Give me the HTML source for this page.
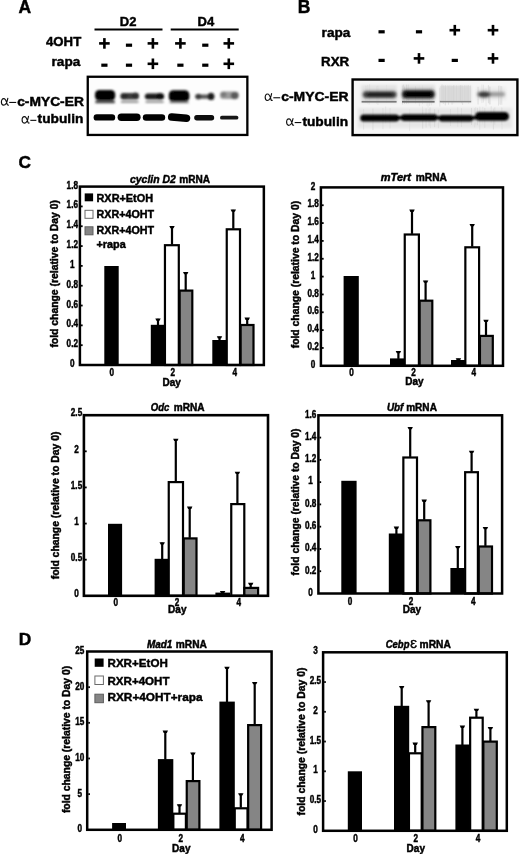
<!DOCTYPE html>
<html><head><meta charset="utf-8"><title>figure</title>
<style>html,body{margin:0;padding:0;background:#fff;}svg{display:block;}text{stroke:#000;stroke-width:0.45px;fill:#000;}</style></head><body>
<svg width="520" height="854" viewBox="0 0 520 854">
<defs>
<filter id="b1" x="-20%" y="-50%" width="140%" height="200%"><feGaussianBlur stdDeviation="1.1"/></filter>
<filter id="b2" x="-20%" y="-50%" width="140%" height="200%"><feGaussianBlur stdDeviation="1.8"/></filter>
<filter id="b15" x="-20%" y="-50%" width="140%" height="200%"><feGaussianBlur stdDeviation="1.35"/></filter>
<filter id="b0" x="-20%" y="-50%" width="140%" height="200%"><feGaussianBlur stdDeviation="0.7"/></filter>
<filter id="soft" x="0" y="0" width="520" height="854" filterUnits="userSpaceOnUse"><feGaussianBlur stdDeviation="0.42"/></filter>
</defs>
<rect x="0" y="0" width="520" height="854" fill="#fff"/>
<g filter="url(#soft)">
<text x="18.6" y="12.7" font-size="17.5" text-anchor="start" font-weight="bold" font-style="normal" font-family='"Liberation Sans", sans-serif' >A</text>
<text x="119.8" y="26.2" font-size="13" text-anchor="start" font-weight="bold" font-style="normal" font-family='"Liberation Sans", sans-serif' >D2</text>
<text x="197.6" y="26.2" font-size="13" text-anchor="start" font-weight="bold" font-style="normal" font-family='"Liberation Sans", sans-serif' >D4</text>
<rect x="94.5" y="28.5" width="68" height="2" fill="#000"/>
<rect x="170.7" y="28.5" width="68" height="2" fill="#000"/>
<text x="81.2" y="46.3" font-size="13.2" text-anchor="end" font-weight="bold" font-style="normal" font-family='"Liberation Sans", sans-serif' >4OHT</text>
<text x="80.3" y="66.2" font-size="13.6" text-anchor="end" font-weight="bold" font-style="normal" font-family='"Liberation Sans", sans-serif' >rapa</text>
<rect x="99.10" y="42.10" width="10.6" height="2.6" fill="#000"/>
<rect x="103.10" y="38.10" width="2.6" height="10.6" fill="#000"/>
<rect x="125.90" y="43.60" width="6.2" height="3.2" fill="#000"/>
<rect x="147.60" y="42.10" width="10.6" height="2.6" fill="#000"/>
<rect x="151.60" y="38.10" width="2.6" height="10.6" fill="#000"/>
<rect x="175.10" y="42.10" width="10.6" height="2.6" fill="#000"/>
<rect x="179.10" y="38.10" width="2.6" height="10.6" fill="#000"/>
<rect x="202.20" y="43.60" width="6.2" height="3.2" fill="#000"/>
<rect x="223.50" y="42.10" width="10.6" height="2.6" fill="#000"/>
<rect x="227.50" y="38.10" width="2.6" height="10.6" fill="#000"/>
<rect x="101.30" y="63.60" width="6.2" height="3.2" fill="#000"/>
<rect x="125.90" y="63.60" width="6.2" height="3.2" fill="#000"/>
<rect x="147.60" y="62.50" width="10.6" height="2.6" fill="#000"/>
<rect x="151.60" y="58.50" width="2.6" height="10.6" fill="#000"/>
<rect x="177.30" y="63.60" width="6.2" height="3.2" fill="#000"/>
<rect x="202.20" y="63.60" width="6.2" height="3.2" fill="#000"/>
<rect x="223.50" y="62.50" width="10.6" height="2.6" fill="#000"/>
<rect x="227.50" y="58.50" width="2.6" height="10.6" fill="#000"/>
<path transform="translate(0.9 98.3) scale(1.000 1.029)" d="M6.9 0.1 C6.3 3.4 4.8 6.7 2.7 6.7 C1.0 6.7 0.5 5.1 0.5 3.6 C0.5 1.9 1.2 0.4 2.8 0.4 C4.8 0.4 5.7 3.6 6.2 5.5 C6.4 6.3 6.8 6.8 7.5 6.6" fill="none" stroke="#111" stroke-width="1.15" stroke-linecap="round"/>
<rect x="9.2" y="101.90" width="7.00" height="1.1" fill="#111"/>
<text x="17.2" y="105.5" font-size="12.2" font-family='"Liberation Sans", sans-serif' font-weight="bold" textLength="66.70" lengthAdjust="spacingAndGlyphs">c-MYC-ER</text>
<path transform="translate(21.6 116.2) scale(1.000 1.029)" d="M6.9 0.1 C6.3 3.4 4.8 6.7 2.7 6.7 C1.0 6.7 0.5 5.1 0.5 3.6 C0.5 1.9 1.2 0.4 2.8 0.4 C4.8 0.4 5.7 3.6 6.2 5.5 C6.4 6.3 6.8 6.8 7.5 6.6" fill="none" stroke="#111" stroke-width="1.15" stroke-linecap="round"/>
<rect x="30.3" y="119.80" width="6.10" height="1.1" fill="#111"/>
<text x="37.6" y="123.4" font-size="13.5" font-family='"Liberation Sans", sans-serif' font-weight="bold" textLength="45.80" lengthAdjust="spacingAndGlyphs">tubulin</text>
<g>
<rect x="87.7" y="76.8" width="159.6" height="58.1" fill="#fdfdfd"/>
<g filter="url(#b1)">
<rect x="95.0" y="90.0" width="20.2" height="10.4" rx="4.2" fill="#000"/>
<rect x="95.6" y="92.5" width="19" height="7" rx="3" fill="#000"/>
<rect x="95.4" y="100.6" width="19.4" height="2.6" fill="#3c3c3c"/>
<rect x="120.4" y="93.0" width="18.6" height="6.6" rx="3" fill="#3a3a3a"/>
<ellipse cx="124.2" cy="96.2" rx="3.4" ry="3" fill="#2a2a2a"/>
<ellipse cx="135.4" cy="95.6" rx="3.4" ry="3" fill="#2e2e2e"/>
<rect x="121.0" y="100.8" width="17.4" height="2.2" fill="#9a9a9a"/>
<rect x="144.8" y="93.4" width="19.4" height="6.2" rx="3" fill="#1c1c1c"/>
<ellipse cx="160.0" cy="96.2" rx="3.6" ry="3.2" fill="#111"/>
<rect x="145.6" y="100.8" width="18" height="2.2" fill="#9a9a9a"/>
<rect x="168.8" y="90.2" width="20.6" height="11.6" rx="4.6" fill="#000"/>
<rect x="169.6" y="92" width="19" height="8.6" rx="3" fill="#000"/>
<rect x="169.6" y="101.4" width="19" height="1.8" fill="#777"/>
<rect x="195.2" y="94.6" width="19" height="4.2" rx="2.1" fill="#5a5a5a"/>
<ellipse cx="198.4" cy="96.6" rx="3" ry="2.8" fill="#3c3c3c"/>
<ellipse cx="211.0" cy="96.4" rx="3.4" ry="3.6" fill="#1e1e1e"/>
<rect x="220.0" y="91.4" width="18.8" height="7.6" rx="3.2" fill="#9c9c9c"/>
<ellipse cx="234.6" cy="95.6" rx="3.8" ry="3.6" fill="#5a5a5a"/>
<ellipse cx="223.6" cy="94.4" rx="2.8" ry="2.6" fill="#7a7a7a"/>
</g>
<g filter="url(#b0)">
<rect x="93.6" y="114.2" width="21.6" height="6.4" rx="3.2" fill="#050505"/>
<rect x="117.6" y="113.6" width="23" height="7.4" rx="3.7" fill="#020202"/>
<rect x="142.8" y="114.2" width="22.4" height="6.6" rx="3.3" fill="#050505"/>
<rect x="167.9" y="113.8" width="22.4" height="7.6" rx="3.8" fill="#020202" transform="rotate(5 179 117.6)"/>
<rect x="194.2" y="115.0" width="20" height="5.4" rx="2.7" fill="#080808"/>
<rect x="220" y="115.8" width="18.4" height="3.8" rx="1.9" fill="#161616"/>
</g>
<rect x="87.75" y="76.75" width="159.6" height="58.2" fill="none" stroke="#000" stroke-width="2.3"/>
</g>
<text x="297.7" y="12.7" font-size="17.5" text-anchor="start" font-weight="bold" font-style="normal" font-family='"Liberation Sans", sans-serif' >B</text>
<text x="321.6" y="36.8" font-size="13.6" text-anchor="start" font-weight="bold" font-style="normal" font-family='"Liberation Sans", sans-serif' >rapa</text>
<text x="321.0" y="65.5" font-size="13.4" text-anchor="start" font-weight="bold" font-style="normal" font-family='"Liberation Sans", sans-serif' >RXR</text>
<rect x="378.50" y="30.20" width="6.2" height="3.2" fill="#000"/>
<rect x="415.90" y="30.20" width="6.2" height="3.2" fill="#000"/>
<rect x="449.50" y="28.90" width="10.6" height="2.6" fill="#000"/>
<rect x="453.50" y="24.90" width="2.6" height="10.6" fill="#000"/>
<rect x="487.70" y="28.90" width="10.6" height="2.6" fill="#000"/>
<rect x="491.70" y="24.90" width="2.6" height="10.6" fill="#000"/>
<rect x="378.50" y="58.80" width="6.2" height="3.2" fill="#000"/>
<rect x="413.70" y="57.10" width="10.6" height="2.6" fill="#000"/>
<rect x="417.70" y="53.10" width="2.6" height="10.6" fill="#000"/>
<rect x="451.70" y="58.80" width="6.2" height="3.2" fill="#000"/>
<rect x="487.70" y="57.10" width="10.6" height="2.6" fill="#000"/>
<rect x="491.70" y="53.10" width="2.6" height="10.6" fill="#000"/>
<path transform="translate(264.7 93.6) scale(1.000 1.029)" d="M6.9 0.1 C6.3 3.4 4.8 6.7 2.7 6.7 C1.0 6.7 0.5 5.1 0.5 3.6 C0.5 1.9 1.2 0.4 2.8 0.4 C4.8 0.4 5.7 3.6 6.2 5.5 C6.4 6.3 6.8 6.8 7.5 6.6" fill="none" stroke="#111" stroke-width="1.15" stroke-linecap="round"/>
<rect x="273.3" y="97.20" width="6.90" height="1.1" fill="#111"/>
<text x="281.2" y="100.8" font-size="12.7" font-family='"Liberation Sans", sans-serif' font-weight="bold" textLength="67.30" lengthAdjust="spacingAndGlyphs">c-MYC-ER</text>
<path transform="translate(286.1 118.39999999999999) scale(1.000 1.029)" d="M6.9 0.1 C6.3 3.4 4.8 6.7 2.7 6.7 C1.0 6.7 0.5 5.1 0.5 3.6 C0.5 1.9 1.2 0.4 2.8 0.4 C4.8 0.4 5.7 3.6 6.2 5.5 C6.4 6.3 6.8 6.8 7.5 6.6" fill="none" stroke="#111" stroke-width="1.15" stroke-linecap="round"/>
<rect x="294.7" y="122.00" width="6.60" height="1.1" fill="#111"/>
<text x="302.4" y="125.6" font-size="13.1" font-family='"Liberation Sans", sans-serif' font-weight="bold" textLength="45.70" lengthAdjust="spacingAndGlyphs">tubulin</text>
<g>
<rect x="352.5" y="79.4" width="165" height="55.8" fill="#f6f6f6"/>
<g filter="url(#b2)">
<rect x="361" y="85" width="36" height="18" fill="#e2e2e2"/>
<rect x="401.5" y="85" width="33.5" height="18" fill="#dedede"/>
<rect x="440" y="86" width="31" height="16" fill="#dcdcdc"/>
<rect x="476" y="87" width="30" height="13" fill="#ececec"/>
<rect x="358" y="108" width="154" height="20" fill="#e6e6e6"/>
</g>
<g filter="url(#b0)" opacity="0.55">
<rect x="407.9" y="84.6" width="0.9" height="19.0" fill="#cfcfcf"/>
<rect x="481.5" y="84.4" width="0.9" height="18.7" fill="#d6d6d6"/>
<rect x="365.5" y="85.7" width="0.9" height="17.2" fill="#cfcfcf"/>
<rect x="441.6" y="84.2" width="0.9" height="18.7" fill="#d6d6d6"/>
<rect x="453.3" y="86.3" width="0.9" height="17.2" fill="#dddddd"/>
<rect x="367.3" y="84.9" width="0.9" height="18.7" fill="#d6d6d6"/>
<rect x="402.9" y="84.6" width="0.9" height="17.4" fill="#c6c6c6"/>
<rect x="442.9" y="86.7" width="0.9" height="17.3" fill="#d6d6d6"/>
<rect x="415.1" y="86.2" width="0.9" height="17.2" fill="#cfcfcf"/>
<rect x="451.6" y="86.0" width="0.9" height="18.6" fill="#c6c6c6"/>
<rect x="428.9" y="87.7" width="0.9" height="18.1" fill="#d6d6d6"/>
<rect x="477.6" y="86.8" width="0.9" height="17.7" fill="#c6c6c6"/>
<rect x="489.5" y="86.9" width="0.9" height="17.9" fill="#cfcfcf"/>
<rect x="377.5" y="85.7" width="0.9" height="19.3" fill="#d6d6d6"/>
<rect x="498.1" y="85.7" width="0.9" height="19.9" fill="#cfcfcf"/>
<rect x="444.8" y="87.5" width="0.9" height="17.9" fill="#c6c6c6"/>
<rect x="448.0" y="86.3" width="0.9" height="18.4" fill="#cfcfcf"/>
<rect x="499.8" y="85.9" width="0.9" height="19.0" fill="#cfcfcf"/>
<rect x="468.2" y="85.2" width="0.9" height="18.7" fill="#dddddd"/>
<rect x="402.1" y="85.5" width="0.9" height="19.0" fill="#cfcfcf"/>
<rect x="499.2" y="85.4" width="0.9" height="18.8" fill="#dddddd"/>
<rect x="368.7" y="87.1" width="0.9" height="17.4" fill="#d6d6d6"/>
<rect x="418.9" y="87.7" width="0.9" height="18.5" fill="#d6d6d6"/>
<rect x="426.5" y="86.2" width="0.9" height="19.7" fill="#dddddd"/>
<rect x="487.9" y="85.1" width="0.9" height="18.2" fill="#c6c6c6"/>
<rect x="461.0" y="85.5" width="0.9" height="17.7" fill="#cfcfcf"/>
<rect x="386.1" y="84.9" width="0.9" height="17.7" fill="#dddddd"/>
<rect x="483.0" y="84.7" width="0.9" height="17.8" fill="#d6d6d6"/>
<rect x="422.0" y="85.5" width="0.9" height="18.7" fill="#d6d6d6"/>
<rect x="462.2" y="86.1" width="0.9" height="18.9" fill="#cfcfcf"/>
<rect x="427.6" y="87.5" width="0.9" height="19.9" fill="#dddddd"/>
<rect x="418.9" y="85.6" width="0.9" height="18.4" fill="#dddddd"/>
<rect x="369.2" y="84.3" width="0.9" height="17.6" fill="#d6d6d6"/>
<rect x="376.3" y="86.4" width="0.9" height="17.3" fill="#d6d6d6"/>
<rect x="439.4" y="87.8" width="0.9" height="18.8" fill="#cfcfcf"/>
<rect x="489.4" y="86.5" width="0.9" height="17.4" fill="#c6c6c6"/>
<rect x="501.4" y="86.4" width="0.9" height="18.4" fill="#cfcfcf"/>
<rect x="485.6" y="88.0" width="0.9" height="18.4" fill="#dddddd"/>
<rect x="406.2" y="84.6" width="0.9" height="19.2" fill="#c6c6c6"/>
<rect x="430.8" y="86.8" width="0.9" height="18.5" fill="#d6d6d6"/>
<rect x="500.7" y="86.1" width="0.9" height="17.4" fill="#cfcfcf"/>
<rect x="404.1" y="86.6" width="0.9" height="17.3" fill="#c6c6c6"/>
<rect x="494.4" y="107.4" width="0.9" height="17.3" fill="#cccccc"/>
<rect x="475.3" y="107.3" width="0.9" height="17.3" fill="#d4d4d4"/>
<rect x="479.3" y="109.3" width="0.9" height="20.4" fill="#d4d4d4"/>
<rect x="389.6" y="108.0" width="0.9" height="20.4" fill="#d4d4d4"/>
<rect x="476.9" y="107.9" width="0.9" height="17.2" fill="#cccccc"/>
<rect x="501.6" y="107.8" width="0.9" height="21.6" fill="#dadada"/>
<rect x="501.3" y="107.5" width="0.9" height="17.3" fill="#d4d4d4"/>
<rect x="429.6" y="107.4" width="0.9" height="18.9" fill="#cccccc"/>
<rect x="484.4" y="107.9" width="0.9" height="19.9" fill="#cccccc"/>
<rect x="372.5" y="108.6" width="0.9" height="21.5" fill="#cccccc"/>
<rect x="471.0" y="107.9" width="0.9" height="17.1" fill="#cccccc"/>
<rect x="409.2" y="109.2" width="0.9" height="21.8" fill="#dadada"/>
<rect x="428.5" y="109.0" width="0.9" height="16.5" fill="#d4d4d4"/>
<rect x="385.2" y="106.5" width="0.9" height="16.9" fill="#dadada"/>
<rect x="479.4" y="106.6" width="0.9" height="21.0" fill="#dadada"/>
<rect x="457.3" y="107.4" width="0.9" height="19.3" fill="#d4d4d4"/>
<rect x="363.2" y="109.2" width="0.9" height="20.4" fill="#d4d4d4"/>
<rect x="437.9" y="109.7" width="0.9" height="18.6" fill="#d4d4d4"/>
<rect x="482.3" y="106.8" width="0.9" height="17.5" fill="#dadada"/>
<rect x="434.2" y="109.1" width="0.9" height="18.0" fill="#cccccc"/>
<rect x="422.0" y="106.5" width="0.9" height="21.5" fill="#dadada"/>
<rect x="492.9" y="108.6" width="0.9" height="20.9" fill="#cccccc"/>
<rect x="422.3" y="109.7" width="0.9" height="19.0" fill="#cccccc"/>
<rect x="382.5" y="108.0" width="0.9" height="21.2" fill="#d4d4d4"/>
<rect x="450.1" y="109.1" width="0.9" height="16.9" fill="#d4d4d4"/>
<rect x="430.1" y="108.9" width="0.9" height="19.3" fill="#dadada"/>
<rect x="461.0" y="108.1" width="0.9" height="18.9" fill="#d4d4d4"/>
<rect x="490.7" y="106.2" width="0.9" height="17.1" fill="#d4d4d4"/>
<rect x="474.3" y="108.0" width="0.9" height="19.4" fill="#d4d4d4"/>
<rect x="425.6" y="108.5" width="0.9" height="19.0" fill="#cccccc"/>
</g>
<g filter="url(#b0)" opacity="0.5">
<rect x="441.5" y="85.5" width="0.9" height="16.5" fill="#b8b8b8"/>
<rect x="442.9" y="85.5" width="0.9" height="16.5" fill="#c4c4c4"/>
<rect x="444.8" y="85.5" width="0.9" height="16.5" fill="#adadad"/>
<rect x="447.2" y="85.5" width="0.9" height="16.5" fill="#cacaca"/>
<rect x="448.6" y="85.5" width="0.9" height="16.5" fill="#b8b8b8"/>
<rect x="450.5" y="85.5" width="0.9" height="16.5" fill="#c4c4c4"/>
<rect x="452.9" y="85.5" width="0.9" height="16.5" fill="#adadad"/>
<rect x="454.3" y="85.5" width="0.9" height="16.5" fill="#cacaca"/>
<rect x="456.2" y="85.5" width="0.9" height="16.5" fill="#b8b8b8"/>
<rect x="458.6" y="85.5" width="0.9" height="16.5" fill="#c4c4c4"/>
<rect x="460.0" y="85.5" width="0.9" height="16.5" fill="#adadad"/>
<rect x="461.9" y="85.5" width="0.9" height="16.5" fill="#cacaca"/>
<rect x="464.3" y="85.5" width="0.9" height="16.5" fill="#b8b8b8"/>
<rect x="465.7" y="85.5" width="0.9" height="16.5" fill="#c4c4c4"/>
<rect x="467.6" y="85.5" width="0.9" height="16.5" fill="#adadad"/>
<rect x="470.0" y="85.5" width="0.9" height="16.5" fill="#cacaca"/>
</g>
<g filter="url(#b15)">
<rect x="362.8" y="91.2" width="33.8" height="6.8" rx="3.4" fill="#3a3a3a"/>
<rect x="367" y="92.6" width="26" height="4.2" rx="2.1" fill="#1a1a1a"/>
<rect x="402.0" y="90.0" width="32.8" height="8.4" rx="4" fill="#161616"/>
<rect x="405" y="91.4" width="27" height="5.6" rx="2.8" fill="#000"/>
<rect x="477" y="92.0" width="28" height="4.6" rx="2.3" fill="#9a9a9a"/>
<ellipse cx="484.2" cy="94.4" rx="6.4" ry="3.0" fill="#383838"/>
</g>
<g filter="url(#b0)">
<rect x="361.6" y="100.9" width="35" height="1.7" fill="#7a7a7a"/>
<rect x="402" y="100.9" width="32.6" height="1.7" fill="#6a6a6a"/>
<rect x="439.8" y="100.7" width="31.4" height="1.7" fill="#888"/>
<rect x="440.2" y="86.0" width="30.8" height="15" fill="#dcdcdc" opacity="0.6"/>
</g>
<g filter="url(#b1)">
<rect x="360.2" y="114.6" width="39.0" height="7.0" rx="3.5" fill="#000"/>
<rect x="400.8" y="114.2" width="36.8" height="6.8" rx="3.4" fill="#000"/>
<rect x="438.8" y="115.0" width="34.4" height="6.4" rx="3.2" fill="#000"/>
<rect x="475.0" y="112.0" width="34.0" height="8.8" rx="4.4" fill="#000"/>
<rect x="362" y="116.0" width="145" height="3.6" rx="1.8" fill="#000"/>
</g>
<rect x="352.6" y="79.5" width="164.8" height="55.6" fill="none" stroke="#000" stroke-width="2.4"/>
</g>
<text x="18.6" y="168.3" font-size="17.3" text-anchor="start" font-weight="bold" font-style="normal" font-family='"Liberation Sans", sans-serif' >C</text>
<rect x="104.30" y="266.00" width="14.40" height="99.00" fill="#000"/>
<rect x="150.80" y="324.80" width="14.40" height="40.20" fill="#000"/>
<rect x="164.95" y="245.20" width="13.85" height="119.80" fill="#fff" stroke="#000" stroke-width="2.2"/>
<rect x="179.65" y="290.60" width="12.65" height="74.40" fill="#858585" stroke="#000" stroke-width="2.2"/>
<rect x="212.30" y="340.00" width="14.40" height="25.00" fill="#000"/>
<rect x="226.75" y="229.30" width="13.25" height="135.70" fill="#fff" stroke="#000" stroke-width="2.2"/>
<rect x="240.65" y="325.00" width="12.85" height="40.00" fill="#858585" stroke="#000" stroke-width="2.2"/>
<rect x="156.90" y="318.80" width="2.2" height="6.50" fill="#000"/>
<path d="M155.30 318.40 h5.4 l-1.1 2.3 h-3.2 z" fill="#000"/>
<rect x="170.90" y="226.30" width="2.2" height="18.30" fill="#000"/>
<path d="M169.30 225.90 h5.4 l-1.1 2.3 h-3.2 z" fill="#000"/>
<rect x="184.60" y="272.30" width="2.2" height="17.70" fill="#000"/>
<path d="M183.00 271.90 h5.4 l-1.1 2.3 h-3.2 z" fill="#000"/>
<rect x="218.40" y="336.60" width="2.2" height="3.90" fill="#000"/>
<path d="M216.80 336.20 h5.4 l-1.1 2.3 h-3.2 z" fill="#000"/>
<rect x="232.20" y="209.80" width="2.2" height="18.90" fill="#000"/>
<path d="M230.60 209.40 h5.4 l-1.1 2.3 h-3.2 z" fill="#000"/>
<rect x="246.10" y="318.00" width="2.2" height="6.40" fill="#000"/>
<path d="M244.50 317.60 h5.4 l-1.1 2.3 h-3.2 z" fill="#000"/>
<rect x="79.9" y="186.6" width="183.95" height="178.40" fill="none" stroke="#000" stroke-width="2.5"/>
<text transform="translate(72.3 367.0) scale(0.82 1)" x="0" y="0" font-size="10" text-anchor="middle" font-weight="bold" font-family='"Liberation Sans", sans-serif'>0</text>
<rect x="80.95" y="344.28" width="1.7" height="1.8" fill="#000"/>
<text transform="translate(72.3 347.18) scale(0.82 1)" x="0" y="0" font-size="10" text-anchor="middle" font-weight="bold" font-family='"Liberation Sans", sans-serif'>0.2</text>
<rect x="80.95" y="324.46" width="1.7" height="1.8" fill="#000"/>
<text transform="translate(72.3 327.36) scale(0.82 1)" x="0" y="0" font-size="10" text-anchor="middle" font-weight="bold" font-family='"Liberation Sans", sans-serif'>0.4</text>
<rect x="80.95" y="304.63" width="1.7" height="1.8" fill="#000"/>
<text transform="translate(72.3 307.53) scale(0.82 1)" x="0" y="0" font-size="10" text-anchor="middle" font-weight="bold" font-family='"Liberation Sans", sans-serif'>0.6</text>
<rect x="80.95" y="284.81" width="1.7" height="1.8" fill="#000"/>
<text transform="translate(72.3 287.71) scale(0.82 1)" x="0" y="0" font-size="10" text-anchor="middle" font-weight="bold" font-family='"Liberation Sans", sans-serif'>0.8</text>
<rect x="80.95" y="264.99" width="1.7" height="1.8" fill="#000"/>
<text transform="translate(72.3 267.89) scale(0.82 1)" x="0" y="0" font-size="10" text-anchor="middle" font-weight="bold" font-family='"Liberation Sans", sans-serif'>1</text>
<rect x="80.95" y="245.17" width="1.7" height="1.8" fill="#000"/>
<text transform="translate(72.3 248.07) scale(0.82 1)" x="0" y="0" font-size="10" text-anchor="middle" font-weight="bold" font-family='"Liberation Sans", sans-serif'>1.2</text>
<rect x="80.95" y="225.34" width="1.7" height="1.8" fill="#000"/>
<text transform="translate(72.3 228.24) scale(0.82 1)" x="0" y="0" font-size="10" text-anchor="middle" font-weight="bold" font-family='"Liberation Sans", sans-serif'>1.4</text>
<rect x="80.95" y="205.52" width="1.7" height="1.8" fill="#000"/>
<text transform="translate(72.3 208.42) scale(0.82 1)" x="0" y="0" font-size="10" text-anchor="middle" font-weight="bold" font-family='"Liberation Sans", sans-serif'>1.6</text>
<text transform="translate(72.3 188.6) scale(0.82 1)" x="0" y="0" font-size="10" text-anchor="middle" font-weight="bold" font-family='"Liberation Sans", sans-serif'>1.8</text>
<text x="130.0" y="183.0" font-size="10" font-weight="bold" font-style="italic" font-family='"Liberation Sans", sans-serif' textLength="45.80" lengthAdjust="spacingAndGlyphs">cyclin D2</text>
<text x="179.2" y="183.0" font-size="10" font-weight="bold" font-style="normal" font-family='"Liberation Sans", sans-serif' textLength="30.80" lengthAdjust="spacingAndGlyphs">mRNA</text>
<text transform="translate(111.7 376.2) scale(0.82 1)" x="0" y="0" font-size="10" text-anchor="middle" font-weight="bold" font-family='"Liberation Sans", sans-serif'>0</text>
<text transform="translate(172.8 376.2) scale(0.82 1)" x="0" y="0" font-size="10" text-anchor="middle" font-weight="bold" font-family='"Liberation Sans", sans-serif'>2</text>
<text transform="translate(234.7 376.2) scale(0.82 1)" x="0" y="0" font-size="10" text-anchor="middle" font-weight="bold" font-family='"Liberation Sans", sans-serif'>4</text>
<text x="171.6" y="386.4" font-size="10" text-anchor="middle" font-weight="bold" font-style="normal" font-family='"Liberation Sans", sans-serif' >Day</text>
<text transform="translate(58.3 347.6) rotate(-90)" font-size="10.0" font-weight="bold" font-family='"Liberation Sans", sans-serif' textLength="147.6" lengthAdjust="spacingAndGlyphs">fold change (relative to Day 0)</text>
<rect x="84.7" y="193.4" width="8.4" height="7.9" fill="#000"/>
<rect x="85.0" y="210.3" width="8.0" height="8.0" fill="#fff" stroke="#6a6a6a" stroke-width="1"/>
<rect x="85.0" y="226.8" width="8.0" height="8.0" fill="#858585" stroke="#5e5e5e" stroke-width="1"/>
<text x="96.5" y="201.7" font-size="10.6" font-weight="bold" font-family='"Liberation Sans", sans-serif' textLength="56.6" lengthAdjust="spacingAndGlyphs">RXR+EtOH</text>
<text x="96.5" y="217.9" font-size="10.6" font-weight="bold" font-family='"Liberation Sans", sans-serif' textLength="57.6" lengthAdjust="spacingAndGlyphs">RXR+4OHT</text>
<text x="96.5" y="234.4" font-size="10.6" font-weight="bold" font-family='"Liberation Sans", sans-serif' textLength="57.6" lengthAdjust="spacingAndGlyphs">RXR+4OHT</text>
<text x="96.5" y="248.2" font-size="10.6" font-weight="bold" font-family='"Liberation Sans", sans-serif' textLength="29.3" lengthAdjust="spacingAndGlyphs">+rapa</text>
<rect x="343.60" y="276.00" width="15.20" height="89.80" fill="#000"/>
<rect x="390.00" y="358.40" width="15.00" height="7.40" fill="#000"/>
<rect x="404.75" y="234.50" width="14.15" height="131.30" fill="#fff" stroke="#000" stroke-width="2.2"/>
<rect x="419.65" y="300.70" width="12.65" height="65.10" fill="#858585" stroke="#000" stroke-width="2.2"/>
<rect x="451.00" y="360.00" width="14.00" height="5.80" fill="#000"/>
<rect x="465.35" y="247.30" width="13.75" height="118.50" fill="#fff" stroke="#000" stroke-width="2.2"/>
<rect x="479.95" y="335.90" width="12.85" height="29.90" fill="#858585" stroke="#000" stroke-width="2.2"/>
<rect x="397.30" y="351.40" width="2.2" height="7.50" fill="#000"/>
<path d="M395.70 351.00 h5.4 l-1.1 2.3 h-3.2 z" fill="#000"/>
<rect x="410.90" y="210.00" width="2.2" height="23.90" fill="#000"/>
<path d="M409.30 209.60 h5.4 l-1.1 2.3 h-3.2 z" fill="#000"/>
<rect x="424.50" y="280.80" width="2.2" height="19.30" fill="#000"/>
<path d="M422.90 280.40 h5.4 l-1.1 2.3 h-3.2 z" fill="#000"/>
<rect x="457.30" y="358.60" width="2.2" height="1.90" fill="#000"/>
<path d="M455.70 358.20 h5.4 l-1.1 2.3 h-3.2 z" fill="#000"/>
<rect x="471.10" y="224.30" width="2.2" height="22.40" fill="#000"/>
<path d="M469.50 223.90 h5.4 l-1.1 2.3 h-3.2 z" fill="#000"/>
<rect x="484.90" y="320.10" width="2.2" height="15.20" fill="#000"/>
<path d="M483.30 319.70 h5.4 l-1.1 2.3 h-3.2 z" fill="#000"/>
<rect x="320.9" y="187.4" width="182.10" height="178.40" fill="none" stroke="#000" stroke-width="2.5"/>
<text transform="translate(313.1 368.0) scale(0.82 1)" x="0" y="0" font-size="10" text-anchor="middle" font-weight="bold" font-family='"Liberation Sans", sans-serif'>0</text>
<rect x="321.95" y="347.06" width="1.7" height="1.8" fill="#000"/>
<text transform="translate(313.1 350.16) scale(0.82 1)" x="0" y="0" font-size="10" text-anchor="middle" font-weight="bold" font-family='"Liberation Sans", sans-serif'>0.2</text>
<rect x="321.95" y="329.22" width="1.7" height="1.8" fill="#000"/>
<text transform="translate(313.1 332.32) scale(0.82 1)" x="0" y="0" font-size="10" text-anchor="middle" font-weight="bold" font-family='"Liberation Sans", sans-serif'>0.4</text>
<rect x="321.95" y="311.38" width="1.7" height="1.8" fill="#000"/>
<text transform="translate(313.1 314.48) scale(0.82 1)" x="0" y="0" font-size="10" text-anchor="middle" font-weight="bold" font-family='"Liberation Sans", sans-serif'>0.6</text>
<rect x="321.95" y="293.54" width="1.7" height="1.8" fill="#000"/>
<text transform="translate(313.1 296.64) scale(0.82 1)" x="0" y="0" font-size="10" text-anchor="middle" font-weight="bold" font-family='"Liberation Sans", sans-serif'>0.8</text>
<rect x="321.95" y="275.70" width="1.7" height="1.8" fill="#000"/>
<text transform="translate(313.1 278.8) scale(0.82 1)" x="0" y="0" font-size="10" text-anchor="middle" font-weight="bold" font-family='"Liberation Sans", sans-serif'>1</text>
<rect x="321.95" y="257.86" width="1.7" height="1.8" fill="#000"/>
<text transform="translate(313.1 260.96) scale(0.82 1)" x="0" y="0" font-size="10" text-anchor="middle" font-weight="bold" font-family='"Liberation Sans", sans-serif'>1.2</text>
<rect x="321.95" y="240.02" width="1.7" height="1.8" fill="#000"/>
<text transform="translate(313.1 243.12) scale(0.82 1)" x="0" y="0" font-size="10" text-anchor="middle" font-weight="bold" font-family='"Liberation Sans", sans-serif'>1.4</text>
<rect x="321.95" y="222.18" width="1.7" height="1.8" fill="#000"/>
<text transform="translate(313.1 225.28) scale(0.82 1)" x="0" y="0" font-size="10" text-anchor="middle" font-weight="bold" font-family='"Liberation Sans", sans-serif'>1.6</text>
<rect x="321.95" y="204.34" width="1.7" height="1.8" fill="#000"/>
<text transform="translate(313.1 207.44) scale(0.82 1)" x="0" y="0" font-size="10" text-anchor="middle" font-weight="bold" font-family='"Liberation Sans", sans-serif'>1.8</text>
<text transform="translate(313.1 189.6) scale(0.82 1)" x="0" y="0" font-size="10" text-anchor="middle" font-weight="bold" font-family='"Liberation Sans", sans-serif'>2</text>
<text x="380.8" y="181.2" font-size="10" font-weight="bold" font-style="italic" font-family='"Liberation Sans", sans-serif' textLength="30.20" lengthAdjust="spacingAndGlyphs">mTert</text>
<text x="415.8" y="181.2" font-size="10" font-weight="bold" font-style="normal" font-family='"Liberation Sans", sans-serif' textLength="31.20" lengthAdjust="spacingAndGlyphs">mRNA</text>
<text transform="translate(351.6 376.0) scale(0.82 1)" x="0" y="0" font-size="10" text-anchor="middle" font-weight="bold" font-family='"Liberation Sans", sans-serif'>0</text>
<text transform="translate(413.6 376.0) scale(0.82 1)" x="0" y="0" font-size="10" text-anchor="middle" font-weight="bold" font-family='"Liberation Sans", sans-serif'>2</text>
<text transform="translate(473.7 376.0) scale(0.82 1)" x="0" y="0" font-size="10" text-anchor="middle" font-weight="bold" font-family='"Liberation Sans", sans-serif'>4</text>
<text x="414.4" y="385.4" font-size="10" text-anchor="middle" font-weight="bold" font-style="normal" font-family='"Liberation Sans", sans-serif' >Day</text>
<text transform="translate(298.9 348.3) rotate(-90)" font-size="10.0" font-weight="bold" font-family='"Liberation Sans", sans-serif' textLength="147.4" lengthAdjust="spacingAndGlyphs">fold change (relative to Day 0)</text>
<rect x="108.00" y="523.80" width="14.10" height="72.00" fill="#000"/>
<rect x="154.60" y="558.80" width="14.60" height="37.00" fill="#000"/>
<rect x="168.75" y="482.10" width="14.25" height="113.70" fill="#fff" stroke="#000" stroke-width="2.2"/>
<rect x="183.75" y="538.40" width="12.75" height="57.40" fill="#858585" stroke="#000" stroke-width="2.2"/>
<rect x="215.40" y="592.60" width="14.60" height="3.20" fill="#000"/>
<rect x="231.25" y="504.10" width="13.05" height="91.70" fill="#fff" stroke="#000" stroke-width="2.2"/>
<rect x="244.35" y="587.90" width="13.75" height="7.90" fill="#858585" stroke="#000" stroke-width="2.2"/>
<rect x="161.10" y="542.60" width="2.2" height="16.70" fill="#000"/>
<path d="M159.50 542.20 h5.4 l-1.1 2.3 h-3.2 z" fill="#000"/>
<rect x="174.70" y="439.20" width="2.2" height="42.30" fill="#000"/>
<path d="M173.10 438.80 h5.4 l-1.1 2.3 h-3.2 z" fill="#000"/>
<rect x="188.60" y="507.00" width="2.2" height="30.80" fill="#000"/>
<path d="M187.00 506.60 h5.4 l-1.1 2.3 h-3.2 z" fill="#000"/>
<rect x="221.50" y="591.40" width="2.2" height="1.70" fill="#000"/>
<path d="M219.90 591.00 h5.4 l-1.1 2.3 h-3.2 z" fill="#000"/>
<rect x="236.30" y="472.20" width="2.2" height="31.30" fill="#000"/>
<path d="M234.70 471.80 h5.4 l-1.1 2.3 h-3.2 z" fill="#000"/>
<rect x="249.60" y="583.20" width="2.2" height="4.10" fill="#000"/>
<path d="M248.00 582.80 h5.4 l-1.1 2.3 h-3.2 z" fill="#000"/>
<rect x="83.9" y="415.2" width="184.10" height="180.60" fill="none" stroke="#000" stroke-width="2.6"/>
<text transform="translate(76.5 597.0) scale(0.82 1)" x="0" y="0" font-size="10" text-anchor="middle" font-weight="bold" font-family='"Liberation Sans", sans-serif'>0</text>
<rect x="85.00" y="558.78" width="1.7" height="1.8" fill="#000"/>
<text transform="translate(76.5 560.88) scale(0.82 1)" x="0" y="0" font-size="10" text-anchor="middle" font-weight="bold" font-family='"Liberation Sans", sans-serif'>0.5</text>
<rect x="85.00" y="522.66" width="1.7" height="1.8" fill="#000"/>
<text transform="translate(76.5 524.76) scale(0.82 1)" x="0" y="0" font-size="10" text-anchor="middle" font-weight="bold" font-family='"Liberation Sans", sans-serif'>1</text>
<rect x="85.00" y="486.54" width="1.7" height="1.8" fill="#000"/>
<text transform="translate(76.5 488.64) scale(0.82 1)" x="0" y="0" font-size="10" text-anchor="middle" font-weight="bold" font-family='"Liberation Sans", sans-serif'>1.5</text>
<rect x="85.00" y="450.42" width="1.7" height="1.8" fill="#000"/>
<text transform="translate(76.5 452.52) scale(0.82 1)" x="0" y="0" font-size="10" text-anchor="middle" font-weight="bold" font-family='"Liberation Sans", sans-serif'>2</text>
<text transform="translate(76.5 416.4) scale(0.82 1)" x="0" y="0" font-size="10" text-anchor="middle" font-weight="bold" font-family='"Liberation Sans", sans-serif'>2.5</text>
<text x="150.8" y="411.4" font-size="10" font-weight="bold" font-style="italic" font-family='"Liberation Sans", sans-serif' textLength="18.60" lengthAdjust="spacingAndGlyphs">Odc</text>
<text x="173.8" y="411.4" font-size="10" font-weight="bold" font-style="normal" font-family='"Liberation Sans", sans-serif' textLength="30.80" lengthAdjust="spacingAndGlyphs">mRNA</text>
<text transform="translate(115.7 606.0) scale(0.82 1)" x="0" y="0" font-size="10" text-anchor="middle" font-weight="bold" font-family='"Liberation Sans", sans-serif'>0</text>
<text transform="translate(177.0 606.0) scale(0.82 1)" x="0" y="0" font-size="10" text-anchor="middle" font-weight="bold" font-family='"Liberation Sans", sans-serif'>2</text>
<text transform="translate(238.8 606.0) scale(0.82 1)" x="0" y="0" font-size="10" text-anchor="middle" font-weight="bold" font-family='"Liberation Sans", sans-serif'>4</text>
<text x="177.3" y="613.2" font-size="10" text-anchor="middle" font-weight="bold" font-style="normal" font-family='"Liberation Sans", sans-serif' >Day</text>
<text transform="translate(59.0 579.3) rotate(-90)" font-size="10.0" font-weight="bold" font-family='"Liberation Sans", sans-serif' textLength="147.7" lengthAdjust="spacingAndGlyphs">fold change (relative to Day 0)</text>
<rect x="341.30" y="480.80" width="15.30" height="112.70" fill="#000"/>
<rect x="388.80" y="533.50" width="14.80" height="60.00" fill="#000"/>
<rect x="403.35" y="457.50" width="13.65" height="136.00" fill="#fff" stroke="#000" stroke-width="2.2"/>
<rect x="417.75" y="520.30" width="12.65" height="73.20" fill="#858585" stroke="#000" stroke-width="2.2"/>
<rect x="450.40" y="568.00" width="14.40" height="25.50" fill="#000"/>
<rect x="465.15" y="472.20" width="12.75" height="121.30" fill="#fff" stroke="#000" stroke-width="2.2"/>
<rect x="478.75" y="546.50" width="13.25" height="47.00" fill="#858585" stroke="#000" stroke-width="2.2"/>
<rect x="395.30" y="527.00" width="2.2" height="7.00" fill="#000"/>
<path d="M393.70 526.60 h5.4 l-1.1 2.3 h-3.2 z" fill="#000"/>
<rect x="409.10" y="427.40" width="2.2" height="29.50" fill="#000"/>
<path d="M407.50 427.00 h5.4 l-1.1 2.3 h-3.2 z" fill="#000"/>
<rect x="423.10" y="500.00" width="2.2" height="19.70" fill="#000"/>
<path d="M421.50 499.60 h5.4 l-1.1 2.3 h-3.2 z" fill="#000"/>
<rect x="456.70" y="546.40" width="2.2" height="22.10" fill="#000"/>
<path d="M455.10 546.00 h5.4 l-1.1 2.3 h-3.2 z" fill="#000"/>
<rect x="470.50" y="451.20" width="2.2" height="20.40" fill="#000"/>
<path d="M468.90 450.80 h5.4 l-1.1 2.3 h-3.2 z" fill="#000"/>
<rect x="484.30" y="527.40" width="2.2" height="18.50" fill="#000"/>
<path d="M482.70 527.00 h5.4 l-1.1 2.3 h-3.2 z" fill="#000"/>
<rect x="318.4" y="415.3" width="183.70" height="178.20" fill="none" stroke="#000" stroke-width="2.5"/>
<text transform="translate(310.6 595.8) scale(0.82 1)" x="0" y="0" font-size="10" text-anchor="middle" font-weight="bold" font-family='"Liberation Sans", sans-serif'>0</text>
<rect x="319.45" y="570.33" width="1.7" height="1.8" fill="#000"/>
<text transform="translate(310.6 573.52) scale(0.82 1)" x="0" y="0" font-size="10" text-anchor="middle" font-weight="bold" font-family='"Liberation Sans", sans-serif'>0.2</text>
<rect x="319.45" y="548.05" width="1.7" height="1.8" fill="#000"/>
<text transform="translate(310.6 551.25) scale(0.82 1)" x="0" y="0" font-size="10" text-anchor="middle" font-weight="bold" font-family='"Liberation Sans", sans-serif'>0.4</text>
<rect x="319.45" y="525.77" width="1.7" height="1.8" fill="#000"/>
<text transform="translate(310.6 528.97) scale(0.82 1)" x="0" y="0" font-size="10" text-anchor="middle" font-weight="bold" font-family='"Liberation Sans", sans-serif'>0.6</text>
<rect x="319.45" y="503.50" width="1.7" height="1.8" fill="#000"/>
<text transform="translate(310.6 506.7) scale(0.82 1)" x="0" y="0" font-size="10" text-anchor="middle" font-weight="bold" font-family='"Liberation Sans", sans-serif'>0.8</text>
<rect x="319.45" y="481.23" width="1.7" height="1.8" fill="#000"/>
<text transform="translate(310.6 484.43) scale(0.82 1)" x="0" y="0" font-size="10" text-anchor="middle" font-weight="bold" font-family='"Liberation Sans", sans-serif'>1</text>
<rect x="319.45" y="458.95" width="1.7" height="1.8" fill="#000"/>
<text transform="translate(310.6 462.15) scale(0.82 1)" x="0" y="0" font-size="10" text-anchor="middle" font-weight="bold" font-family='"Liberation Sans", sans-serif'>1.2</text>
<rect x="319.45" y="436.68" width="1.7" height="1.8" fill="#000"/>
<text transform="translate(310.6 439.88) scale(0.82 1)" x="0" y="0" font-size="10" text-anchor="middle" font-weight="bold" font-family='"Liberation Sans", sans-serif'>1.4</text>
<text transform="translate(310.6 417.6) scale(0.82 1)" x="0" y="0" font-size="10" text-anchor="middle" font-weight="bold" font-family='"Liberation Sans", sans-serif'>1.6</text>
<text x="386.9" y="411.4" font-size="10" font-weight="bold" font-style="italic" font-family='"Liberation Sans", sans-serif' textLength="16.40" lengthAdjust="spacingAndGlyphs">Ubf</text>
<text x="406.2" y="411.4" font-size="10" font-weight="bold" font-style="normal" font-family='"Liberation Sans", sans-serif' textLength="30.70" lengthAdjust="spacingAndGlyphs">mRNA</text>
<text transform="translate(349.9 604.8) scale(0.82 1)" x="0" y="0" font-size="10" text-anchor="middle" font-weight="bold" font-family='"Liberation Sans", sans-serif'>0</text>
<text transform="translate(411.0 604.8) scale(0.82 1)" x="0" y="0" font-size="10" text-anchor="middle" font-weight="bold" font-family='"Liberation Sans", sans-serif'>2</text>
<text transform="translate(473.3 604.8) scale(0.82 1)" x="0" y="0" font-size="10" text-anchor="middle" font-weight="bold" font-family='"Liberation Sans", sans-serif'>4</text>
<text x="411.9" y="613.2" font-size="10" text-anchor="middle" font-weight="bold" font-style="normal" font-family='"Liberation Sans", sans-serif' >Day</text>
<text transform="translate(299.3 575.4) rotate(-90)" font-size="10.0" font-weight="bold" font-family='"Liberation Sans", sans-serif' textLength="146.9" lengthAdjust="spacingAndGlyphs">fold change (relative to Day 0)</text>
<text x="18.7" y="645.3" font-size="17.3" text-anchor="start" font-weight="bold" font-style="normal" font-family='"Liberation Sans", sans-serif' >D</text>
<rect x="112.10" y="823.00" width="13.90" height="6.80" fill="#000"/>
<rect x="157.90" y="759.10" width="15.40" height="70.70" fill="#000"/>
<rect x="173.35" y="813.70" width="12.55" height="16.10" fill="#fff" stroke="#000" stroke-width="2.2"/>
<rect x="186.75" y="781.10" width="12.65" height="48.70" fill="#858585" stroke="#000" stroke-width="2.2"/>
<rect x="219.40" y="701.60" width="15.40" height="128.20" fill="#000"/>
<rect x="234.75" y="808.30" width="12.75" height="21.50" fill="#fff" stroke="#000" stroke-width="2.2"/>
<rect x="248.15" y="725.10" width="12.95" height="104.70" fill="#858585" stroke="#000" stroke-width="2.2"/>
<rect x="164.20" y="731.00" width="2.2" height="28.60" fill="#000"/>
<path d="M162.60 730.60 h5.4 l-1.1 2.3 h-3.2 z" fill="#000"/>
<rect x="178.40" y="804.60" width="2.2" height="8.50" fill="#000"/>
<path d="M176.80 804.20 h5.4 l-1.1 2.3 h-3.2 z" fill="#000"/>
<rect x="191.80" y="752.80" width="2.2" height="27.70" fill="#000"/>
<path d="M190.20 752.40 h5.4 l-1.1 2.3 h-3.2 z" fill="#000"/>
<rect x="225.90" y="667.20" width="2.2" height="34.90" fill="#000"/>
<path d="M224.30 666.80 h5.4 l-1.1 2.3 h-3.2 z" fill="#000"/>
<rect x="239.70" y="793.70" width="2.2" height="14.00" fill="#000"/>
<path d="M238.10 793.30 h5.4 l-1.1 2.3 h-3.2 z" fill="#000"/>
<rect x="253.60" y="682.30" width="2.2" height="42.20" fill="#000"/>
<path d="M252.00 681.90 h5.4 l-1.1 2.3 h-3.2 z" fill="#000"/>
<rect x="87.2" y="651.5" width="184.40" height="178.30" fill="none" stroke="#000" stroke-width="2.5"/>
<text transform="translate(79.8 832.2) scale(0.82 1)" x="0" y="0" font-size="10" text-anchor="middle" font-weight="bold" font-family='"Liberation Sans", sans-serif'>0</text>
<rect x="88.25" y="793.24" width="1.7" height="1.8" fill="#000"/>
<text transform="translate(79.8 796.54) scale(0.82 1)" x="0" y="0" font-size="10" text-anchor="middle" font-weight="bold" font-family='"Liberation Sans", sans-serif'>5</text>
<rect x="88.25" y="757.58" width="1.7" height="1.8" fill="#000"/>
<text transform="translate(79.8 760.88) scale(0.82 1)" x="0" y="0" font-size="10" text-anchor="middle" font-weight="bold" font-family='"Liberation Sans", sans-serif'>10</text>
<rect x="88.25" y="721.92" width="1.7" height="1.8" fill="#000"/>
<text transform="translate(79.8 725.22) scale(0.82 1)" x="0" y="0" font-size="10" text-anchor="middle" font-weight="bold" font-family='"Liberation Sans", sans-serif'>15</text>
<rect x="88.25" y="686.26" width="1.7" height="1.8" fill="#000"/>
<text transform="translate(79.8 689.56) scale(0.82 1)" x="0" y="0" font-size="10" text-anchor="middle" font-weight="bold" font-family='"Liberation Sans", sans-serif'>20</text>
<text transform="translate(79.8 653.9) scale(0.82 1)" x="0" y="0" font-size="10" text-anchor="middle" font-weight="bold" font-family='"Liberation Sans", sans-serif'>25</text>
<text x="146.9" y="648.2" font-size="10" font-weight="bold" font-style="italic" font-family='"Liberation Sans", sans-serif' textLength="25.40" lengthAdjust="spacingAndGlyphs">Mad1</text>
<text x="175.8" y="648.2" font-size="10" font-weight="bold" font-style="normal" font-family='"Liberation Sans", sans-serif' textLength="31.10" lengthAdjust="spacingAndGlyphs">mRNA</text>
<text transform="translate(119.7 842.0) scale(0.82 1)" x="0" y="0" font-size="10" text-anchor="middle" font-weight="bold" font-family='"Liberation Sans", sans-serif'>0</text>
<text transform="translate(180.8 842.0) scale(0.82 1)" x="0" y="0" font-size="10" text-anchor="middle" font-weight="bold" font-family='"Liberation Sans", sans-serif'>2</text>
<text transform="translate(242.2 842.0) scale(0.82 1)" x="0" y="0" font-size="10" text-anchor="middle" font-weight="bold" font-family='"Liberation Sans", sans-serif'>4</text>
<text x="181.3" y="851.6" font-size="10" text-anchor="middle" font-weight="bold" font-style="normal" font-family='"Liberation Sans", sans-serif' >Day</text>
<text transform="translate(70.4 813.1) rotate(-90)" font-size="10.0" font-weight="bold" font-family='"Liberation Sans", sans-serif' textLength="147.2" lengthAdjust="spacingAndGlyphs">fold change (relative to Day 0)</text>
<rect x="94.7" y="658.5" width="8.9" height="8.3" fill="#000"/>
<rect x="94.9" y="676.0" width="8.5" height="8.5" fill="#fff" stroke="#6a6a6a" stroke-width="1"/>
<rect x="94.9" y="694.2" width="8.5" height="8.5" fill="#858585" stroke="#5e5e5e" stroke-width="1"/>
<text x="107.5" y="667.2" font-size="11.6" font-weight="bold" font-family='"Liberation Sans", sans-serif' textLength="60.3" lengthAdjust="spacingAndGlyphs">RXR+EtOH</text>
<text x="107.5" y="684.6" font-size="11.6" font-weight="bold" font-family='"Liberation Sans", sans-serif' textLength="62.0" lengthAdjust="spacingAndGlyphs">RXR+4OHT</text>
<text x="107.5" y="701.2" font-size="11.6" font-weight="bold" font-family='"Liberation Sans", sans-serif' textLength="95.0" lengthAdjust="spacingAndGlyphs">RXR+4OHT+rapa</text>
<rect x="347.80" y="771.30" width="14.20" height="59.50" fill="#000"/>
<rect x="394.00" y="705.80" width="15.20" height="125.00" fill="#000"/>
<rect x="408.95" y="753.30" width="12.75" height="77.50" fill="#fff" stroke="#000" stroke-width="2.2"/>
<rect x="422.45" y="727.10" width="12.85" height="103.70" fill="#858585" stroke="#000" stroke-width="2.2"/>
<rect x="455.40" y="744.50" width="14.50" height="86.30" fill="#000"/>
<rect x="470.15" y="717.70" width="12.55" height="113.10" fill="#fff" stroke="#000" stroke-width="2.2"/>
<rect x="483.35" y="741.60" width="13.45" height="89.20" fill="#858585" stroke="#000" stroke-width="2.2"/>
<rect x="400.60" y="686.40" width="2.2" height="19.90" fill="#000"/>
<path d="M399.00 686.00 h5.4 l-1.1 2.3 h-3.2 z" fill="#000"/>
<rect x="414.10" y="743.00" width="2.2" height="9.70" fill="#000"/>
<path d="M412.50 742.60 h5.4 l-1.1 2.3 h-3.2 z" fill="#000"/>
<rect x="427.50" y="700.60" width="2.2" height="25.90" fill="#000"/>
<path d="M425.90 700.20 h5.4 l-1.1 2.3 h-3.2 z" fill="#000"/>
<rect x="461.30" y="726.00" width="2.2" height="19.00" fill="#000"/>
<path d="M459.70 725.60 h5.4 l-1.1 2.3 h-3.2 z" fill="#000"/>
<rect x="475.30" y="709.10" width="2.2" height="8.00" fill="#000"/>
<path d="M473.70 708.70 h5.4 l-1.1 2.3 h-3.2 z" fill="#000"/>
<rect x="489.30" y="727.40" width="2.2" height="13.60" fill="#000"/>
<path d="M487.70 727.00 h5.4 l-1.1 2.3 h-3.2 z" fill="#000"/>
<rect x="323.1" y="652.3" width="183.70" height="178.50" fill="none" stroke="#000" stroke-width="2.5"/>
<text transform="translate(315.4 832.8) scale(0.82 1)" x="0" y="0" font-size="10" text-anchor="middle" font-weight="bold" font-family='"Liberation Sans", sans-serif'>0</text>
<rect x="324.15" y="800.15" width="1.7" height="1.8" fill="#000"/>
<text transform="translate(315.4 803.05) scale(0.82 1)" x="0" y="0" font-size="10" text-anchor="middle" font-weight="bold" font-family='"Liberation Sans", sans-serif'>0.5</text>
<rect x="324.15" y="770.40" width="1.7" height="1.8" fill="#000"/>
<text transform="translate(315.4 773.3) scale(0.82 1)" x="0" y="0" font-size="10" text-anchor="middle" font-weight="bold" font-family='"Liberation Sans", sans-serif'>1</text>
<rect x="324.15" y="740.65" width="1.7" height="1.8" fill="#000"/>
<text transform="translate(315.4 743.55) scale(0.82 1)" x="0" y="0" font-size="10" text-anchor="middle" font-weight="bold" font-family='"Liberation Sans", sans-serif'>1.5</text>
<rect x="324.15" y="710.90" width="1.7" height="1.8" fill="#000"/>
<text transform="translate(315.4 713.8) scale(0.82 1)" x="0" y="0" font-size="10" text-anchor="middle" font-weight="bold" font-family='"Liberation Sans", sans-serif'>2</text>
<rect x="324.15" y="681.15" width="1.7" height="1.8" fill="#000"/>
<text transform="translate(315.4 684.05) scale(0.82 1)" x="0" y="0" font-size="10" text-anchor="middle" font-weight="bold" font-family='"Liberation Sans", sans-serif'>2.5</text>
<text transform="translate(315.4 654.3) scale(0.82 1)" x="0" y="0" font-size="10" text-anchor="middle" font-weight="bold" font-family='"Liberation Sans", sans-serif'>3</text>
<text x="385.8" y="647.8" font-size="10" font-weight="bold" font-style="italic" font-family='"Liberation Sans", sans-serif' textLength="23.60" lengthAdjust="spacingAndGlyphs">Cebp</text>
<text x="410.2" y="647.8" font-size="10.4" font-weight="normal" font-style="normal" font-family='"Liberation Sans", sans-serif' textLength="6.80" lengthAdjust="spacingAndGlyphs">Ɛ</text>
<text x="419.6" y="647.8" font-size="10" font-weight="bold" font-style="normal" font-family='"Liberation Sans", sans-serif' textLength="31.20" lengthAdjust="spacingAndGlyphs">mRNA</text>
<text transform="translate(355.6 841.8) scale(0.82 1)" x="0" y="0" font-size="10" text-anchor="middle" font-weight="bold" font-family='"Liberation Sans", sans-serif'>0</text>
<text transform="translate(415.8 841.8) scale(0.82 1)" x="0" y="0" font-size="10" text-anchor="middle" font-weight="bold" font-family='"Liberation Sans", sans-serif'>2</text>
<text transform="translate(478.0 841.8) scale(0.82 1)" x="0" y="0" font-size="10" text-anchor="middle" font-weight="bold" font-family='"Liberation Sans", sans-serif'>4</text>
<text x="415.8" y="851.8" font-size="10" text-anchor="middle" font-weight="bold" font-style="normal" font-family='"Liberation Sans", sans-serif' >Day</text>
<text transform="translate(304.9 815.5) rotate(-90)" font-size="10.0" font-weight="bold" font-family='"Liberation Sans", sans-serif' textLength="148.0" lengthAdjust="spacingAndGlyphs">fold change (relative to Day 0)</text>
</g>
</svg>
</body></html>
